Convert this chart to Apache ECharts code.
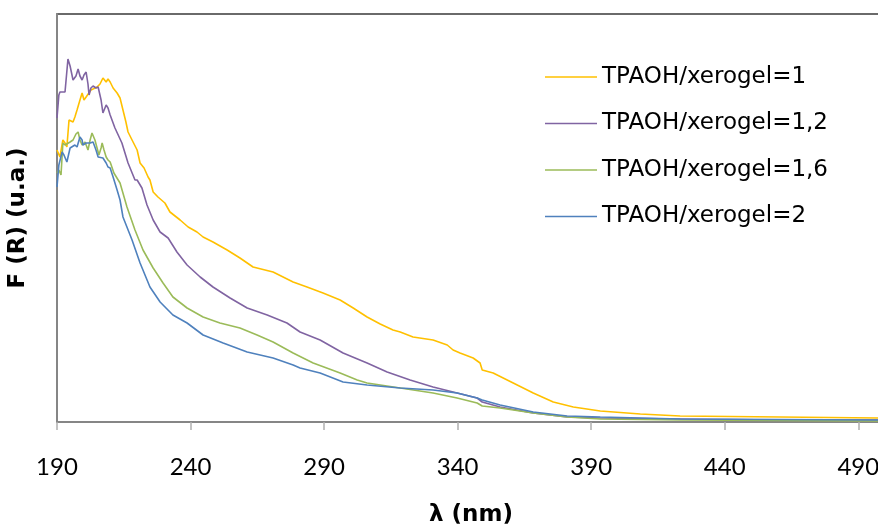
<!DOCTYPE html>
<html>
<head>
<meta charset="utf-8">
<script src="https://cdn.jsdelivr.net/npm/echarts@6/dist/echarts.min.js"></script>
<style>
  html, body { margin: 0; padding: 0; background: #fff; }
  #chart { width: 878px; height: 527px; }
</style>
</head>
<body>
<div id="chart"></div>
<script>
// wavelength ticks shown on the x axis
const tickLabels = [190, 240, 290, 340, 390, 440, 490];

const seriesNames = ["TPAOH/xerogel=1", "TPAOH/xerogel=1,2", "TPAOH/xerogel=1,6", "TPAOH/xerogel=2"];
const seriesColors = ["#FFC000", "#8064A2", "#9BBB59", "#4F81BD"];

// TPAOH/xerogel=1
const lambda1 = [190.0, 191.1, 192.2, 193.0, 193.7, 194.5, 195.2, 196.0, 196.7, 197.5, 198.6, 199.4, 200.1, 200.9, 201.6, 202.7, 203.5, 205.0, 206.1, 207.2, 208.4, 209.1, 209.9, 211.0, 212.5, 213.6, 214.7, 215.8, 216.6, 218.1, 220.0, 221.1, 222.6, 224.1, 224.8, 226.0, 227.8, 230.4, 232.3, 236.1, 239.1, 242.4, 244.7, 248.4, 253.7, 258.5, 263.4, 270.9, 278.4, 283.6, 289.6, 296.0, 300.9, 306.1, 311.0, 315.8, 318.5, 323.3, 330.8, 336.1, 338.3, 340.9, 345.8, 348.4, 349.2, 353.3, 360.8, 368.3, 375.8, 383.3, 393.4, 408.4, 423.3, 460.8, 500.0];
const f1 = [2.72, 2.65, 2.82, 2.79, 2.75, 3.02, 3.04, 3.00, 3.05, 3.12, 3.22, 3.29, 3.22, 3.25, 3.27, 3.32, 3.33, 3.35, 3.38, 3.44, 3.40, 3.43, 3.40, 3.34, 3.29, 3.24, 3.12, 3.00, 2.90, 2.82, 2.72, 2.59, 2.54, 2.45, 2.42, 2.30, 2.25, 2.19, 2.10, 2.02, 1.95, 1.90, 1.85, 1.80, 1.72, 1.64, 1.55, 1.50, 1.40, 1.35, 1.29, 1.22, 1.14, 1.05, 0.98, 0.92, 0.90, 0.85, 0.82, 0.77, 0.72, 0.69, 0.64, 0.59, 0.52, 0.49, 0.39, 0.29, 0.20, 0.15, 0.11, 0.08, 0.06, 0.05, 0.04];

// TPAOH/xerogel=1,2
const lambda2 = [190.0, 190.7, 191.1, 193.0, 194.1, 194.9, 196.0, 197.1, 197.9, 198.6, 199.4, 200.1, 200.9, 201.6, 202.0, 202.7, 203.5, 204.6, 205.4, 206.5, 207.2, 208.4, 209.1, 209.9, 211.7, 214.3, 216.6, 219.2, 220.0, 221.8, 223.7, 226.0, 228.6, 231.6, 234.9, 238.7, 243.6, 248.4, 254.8, 261.2, 268.7, 276.1, 281.0, 288.5, 297.1, 306.1, 313.6, 322.2, 330.8, 339.8, 347.3, 349.2, 355.9, 368.3, 381.0, 393.4, 423.3, 460.8, 500.0];
const f2 = [3.04, 3.27, 3.30, 3.30, 3.63, 3.56, 3.42, 3.46, 3.53, 3.46, 3.42, 3.47, 3.50, 3.38, 3.27, 3.34, 3.36, 3.34, 3.35, 3.22, 3.09, 3.17, 3.14, 3.07, 2.94, 2.79, 2.59, 2.42, 2.42, 2.34, 2.17, 2.02, 1.90, 1.84, 1.70, 1.57, 1.45, 1.35, 1.24, 1.14, 1.07, 0.99, 0.90, 0.82, 0.69, 0.59, 0.50, 0.42, 0.35, 0.29, 0.24, 0.20, 0.15, 0.09, 0.05, 0.04, 0.03, 0.02, 0.02];

// TPAOH/xerogel=1,6
const lambda3 = [190.0, 190.7, 191.5, 192.2, 193.0, 193.7, 194.9, 196.0, 197.1, 197.9, 198.6, 199.4, 200.5, 201.6, 202.4, 203.1, 204.2, 205.0, 205.7, 206.5, 206.9, 207.6, 208.4, 209.1, 209.9, 211.3, 213.6, 216.2, 219.2, 222.2, 226.0, 229.7, 233.4, 238.7, 244.7, 251.0, 258.5, 264.9, 270.9, 278.4, 285.9, 296.0, 302.4, 306.1, 318.5, 330.8, 339.8, 347.3, 349.2, 355.9, 368.3, 381.0, 393.4, 423.3, 500.0];
const f3 = [2.49, 2.52, 2.47, 2.79, 2.77, 2.75, 2.80, 2.82, 2.88, 2.90, 2.82, 2.77, 2.80, 2.72, 2.82, 2.89, 2.82, 2.74, 2.67, 2.74, 2.79, 2.72, 2.65, 2.62, 2.60, 2.49, 2.39, 2.15, 1.92, 1.72, 1.54, 1.39, 1.25, 1.14, 1.05, 0.99, 0.94, 0.87, 0.80, 0.69, 0.59, 0.49, 0.42, 0.39, 0.34, 0.29, 0.24, 0.19, 0.16, 0.14, 0.09, 0.05, 0.03, 0.02, 0.01];

// TPAOH/xerogel=2
const lambda4 = [190.0, 190.7, 191.9, 192.6, 193.7, 194.9, 195.6, 196.7, 197.5, 198.6, 199.4, 199.7, 200.9, 202.4, 203.5, 204.6, 205.4, 206.1, 207.2, 208.4, 209.1, 209.9, 211.0, 212.5, 213.6, 214.7, 218.1, 221.1, 224.8, 228.6, 233.4, 238.7, 244.7, 252.2, 261.2, 270.9, 278.4, 281.0, 288.5, 297.1, 306.1, 318.5, 330.8, 339.8, 347.3, 349.2, 355.9, 368.3, 381.0, 393.4, 423.3, 500.0];
const f4 = [2.35, 2.57, 2.70, 2.67, 2.60, 2.74, 2.72, 2.77, 2.75, 2.85, 2.82, 2.77, 2.79, 2.79, 2.80, 2.72, 2.65, 2.67, 2.64, 2.59, 2.55, 2.54, 2.45, 2.32, 2.22, 2.05, 1.82, 1.59, 1.35, 1.20, 1.07, 0.99, 0.87, 0.79, 0.70, 0.64, 0.57, 0.54, 0.49, 0.40, 0.37, 0.34, 0.32, 0.29, 0.24, 0.22, 0.17, 0.10, 0.06, 0.05, 0.03, 0.02];

const lambdas = [lambda1, lambda2, lambda3, lambda4];
const values = [f1, f2, f3, f4];

function pairs(xs, ys) {
  return xs.map((x, i) => [x, ys[i]]);
}

const myChart = echarts.init(document.getElementById("chart"), null, { renderer: "canvas" });

const option = {
  animation: false,
  backgroundColor: "#ffffff",
  grid: {
    show: true,
    left: 57,
    right: -7,
    top: 14,
    bottom: 105,
    borderColor: "#3a3a3a",
    borderWidth: 1.5,
    containLabel: false,
    outerBoundsMode: "none"
  },
  legend: {
    orient: "vertical",
    left: 540,
    top: 60.5,
    itemWidth: 52,
    itemHeight: 14,
    itemGap: 23.5,
    icon: "path://M0,6 L52,6 L52,7.5 L0,7.5 Z",
    textStyle: {
      fontFamily: "DejaVu Sans",
      fontSize: 23,
      color: "#000",
      padding: [0, 0, 0, 0]
    },
    data: seriesNames
  },
  xAxis: {
    type: "value",
    min: 190,
    max: 500,
    name: "λ (nm)",
    nameLocation: "middle",
    nameGap: 82,
    nameTextStyle: {
      fontFamily: "DejaVu Sans",
      fontWeight: "bold",
      fontSize: 23,
      color: "#000"
    },
    axisLine: { show: true, lineStyle: { color: "#868686", width: 2 } },
    axisTick: {
      show: true,
      inside: false,
      length: 8,
      customValues: tickLabels,
      lineStyle: { color: "#b0b0b0", width: 1.5 }
    },
    axisLabel: {
      customValues: tickLabels,
      margin: 33,
      fontFamily: "Lato",
      fontSize: 24,
      color: "#000"
    },
    splitLine: { show: false }
  },
  yAxis: {
    type: "value",
    min: 0,
    max: 4.08,
    name: "F (R) (u.a.)",
    nameLocation: "middle",
    nameGap: 27,
    nameTextStyle: {
      fontFamily: "DejaVu Sans",
      fontWeight: "bold",
      fontSize: 23,
      color: "#000"
    },
    axisLine: { show: true, lineStyle: { color: "#868686", width: 2 } },
    axisTick: { show: false },
    axisLabel: { show: false },
    splitLine: { show: false }
  },
  series: seriesNames.map((name, i) => ({
    name: name,
    type: "line",
    color: seriesColors[i],
    symbol: "none",
    smooth: false,
    lineStyle: { width: 1.6, color: seriesColors[i] },
    data: pairs(lambdas[i], values[i])
  }))
};

myChart.setOption(option);
</script>
</body>
</html>
